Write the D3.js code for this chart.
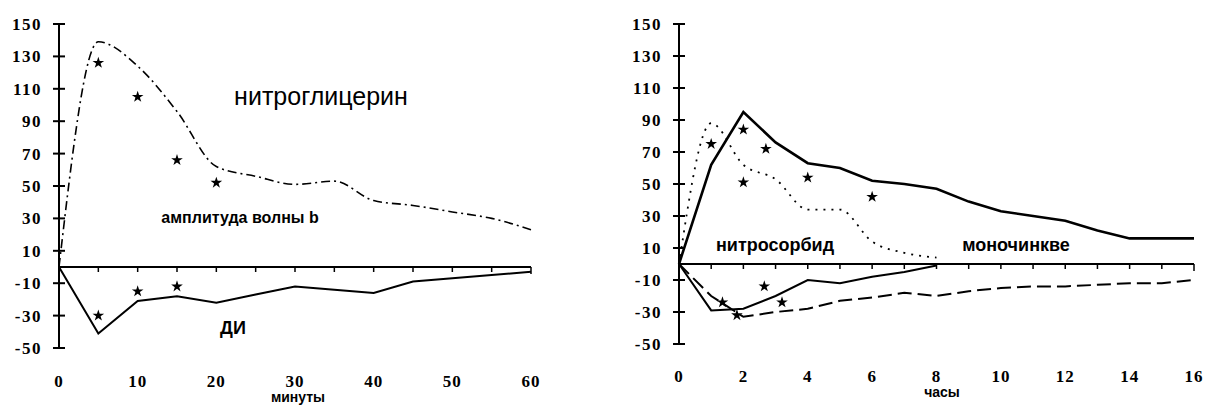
<!DOCTYPE html>
<html>
<head>
<meta charset="utf-8">
<script src="https://cdn.jsdelivr.net/npm/d3@7"></script>
<style>
  body { margin: 0; background: #fff; }
  svg { display: block; }
</style>
</head>
<body>
<div id="chart"></div>
<script>
// --- data ---
var yTicks = [150, 130, 110, 90, 70, 50, 30, 10, -10, -30, -50];

// left panel: minutes
var minutes = [0, 5, 10, 15, 20, 25, 30, 35, 40, 45, 50, 55, 60];
var minuteLabels = [0, 10, 20, 30, 40, 50, 60];
var ntgWaveB = [0, 139, 124, 96, 62, 56, 51, 53, 41, 38, 34, 30, 23];
var ntgDI = [0, -41, -21, -18, -22, -17, -12, -14, -16, -9, -7, -5, -3];
var ntgWaveBStarT = [5, 10, 15, 20];
var ntgWaveBStarV = [126, 105, 66, 52];
var ntgDIStarT = [5, 10, 15];
var ntgDIStarV = [-30, -15, -12];

// right panel: hours
var hours = [0, 1, 2, 3, 4, 5, 6, 7, 8, 9, 10, 11, 12, 13, 14, 15, 16];
var hourLabels = [0, 2, 4, 6, 8, 10, 12, 14, 16];
var monoWaveB = [0, 62, 95, 76, 63, 60, 52, 50, 47, 39, 33, 30, 27, 21, 16, 16, 16];
var monoDI = [0, -20, -33, -30, -28, -23, -21, -18, -20, -17, -15, -14, -14, -13, -12, -12, -10];
var sorbHours = [0, 1, 2, 3, 4, 5, 6, 7, 8];
var sorbWaveB = [0, 88, 62, 53, 34, 34, 14, 7, 4];
var sorbDI = [0, -29, -28, -20, -10, -12, -8, -5, -1];
var rightStarUpT = [1, 2, 2, 2.7, 4, 6];
var rightStarUpV = [75, 84, 51, 72, 54, 42];
var rightStarLowT = [1.35, 1.8, 2.65, 3.2];
var rightStarLowV = [-24, -32, -14, -24];

var W = 1208, H = 406;
var serif = "'Liberation Serif', 'Times New Roman', serif";
var sans = "'Liberation Sans', Arial, sans-serif";

var svg = d3.select("#chart").append("svg").attr("width", W).attr("height", H);

function zip(xs, ys) { return xs.map(function(x, i) { return [x, ys[i]]; }); }

function drawPanel(cfg) {
    var x = d3.scaleLinear().domain(cfg.xDomain).range(cfg.xRange);
    var y = d3.scaleLinear().domain([150, -50]).range(cfg.yRange);
    var g = svg.append("g");

    // y axis with cross ticks
    g.append("line")
        .attr("x1", x(0)).attr("x2", x(0))
        .attr("y1", y(150)).attr("y2", y(-50))
        .attr("stroke", "#000").attr("stroke-width", 2);
    g.selectAll(".ytick").data(yTicks).enter().append("line")
        .attr("x1", x(0) - 6).attr("x2", x(0) + 6)
        .attr("y1", function(d) { return y(d); }).attr("y2", function(d) { return y(d); })
        .attr("stroke", "#000").attr("stroke-width", 2);
    g.selectAll(".ylab").data(yTicks).enter().append("text")
        .attr("x", x(0) - 17)
        .attr("y", function(d) { return y(d); })
        .attr("dy", "0.35em")
        .attr("text-anchor", "end")
        .attr("font-family", serif).attr("font-weight", "bold").attr("font-size", 17)
        .attr("letter-spacing", 1.5)
        .text(function(d) { return d; });

    // zero line with small ticks below
    g.append("line")
        .attr("x1", x(0)).attr("x2", x(cfg.xDomain[1]))
        .attr("y1", y(0)).attr("y2", y(0))
        .attr("stroke", "#000").attr("stroke-width", 2);
    g.selectAll(".xtick").data(cfg.minorTicks).enter().append("line")
        .attr("x1", function(d) { return x(d); }).attr("x2", function(d) { return x(d); })
        .attr("y1", y(0)).attr("y2", function(d, i) { return i === cfg.minorTicks.length - 1 ? y(0) + 7 : y(0) + 5; })
        .attr("stroke", "#000").attr("stroke-width", 1.5);
    g.selectAll(".xlab").data(cfg.labels).enter().append("text")
        .attr("x", function(d) { return x(d); })
        .attr("y", cfg.labelY)
        .attr("dy", "0.35em")
        .attr("text-anchor", "middle")
        .attr("font-family", serif).attr("font-weight", "bold").attr("font-size", 17)
        .attr("letter-spacing", 1)
        .text(function(d) { return d; });
    g.append("text")
        .attr("x", cfg.titleX).attr("y", cfg.titleY)
        .attr("dy", "0.35em")
        .attr("text-anchor", "middle")
        .attr("font-family", sans).attr("font-weight", "bold").attr("font-size", 14)
        .text(cfg.title);

    cfg.lines.forEach(function(l) {
        var line = d3.line()
            .x(function(d) { return x(d[0]); })
            .y(function(d) { return y(d[1]); })
            .curve(l.curve || d3.curveLinear);
        g.append("path")
            .datum(zip(l.t, l.v))
            .attr("d", line)
            .attr("fill", "none")
            .attr("stroke", "#000")
            .attr("stroke-width", l.width)
            .attr("stroke-dasharray", l.dash || null);
    });

    var star = d3.symbol().type(d3.symbolStar).size(42);
    cfg.stars.forEach(function(s) {
        g.selectAll(null).data(zip(s.t, s.v)).enter().append("path")
            .attr("d", star)
            .attr("transform", function(d) { return "translate(" + x(d[0]) + "," + y(d[1]) + ")"; })
            .attr("fill", "#000");
    });

    cfg.notes.forEach(function(n) {
        g.append("text")
            .attr("x", n.x).attr("y", n.y)
            .attr("dy", "0.35em")
            .attr("text-anchor", "middle")
            .attr("font-family", sans)
            .attr("font-size", n.size)
            .attr("font-weight", n.weight || "bold")
            .text(n.text);
    });
}

drawPanel({
    xDomain: [0, 60], xRange: [59, 531], yRange: [24, 348],
    minorTicks: minutes, labels: minuteLabels, labelY: 381,
    title: "минуты", titleX: 298, titleY: 397,
    lines: [
        { t: minutes, v: ntgWaveB, width: 1.6, dash: "9,4,2,4", curve: d3.curveMonotoneX },
        { t: minutes, v: ntgDI, width: 2 }
    ],
    stars: [
        { t: ntgWaveBStarT, v: ntgWaveBStarV },
        { t: ntgDIStarT, v: ntgDIStarV }
    ],
    notes: [
        { text: "нитроглицерин", x: 321, y: 96, size: 25, weight: "normal" },
        { text: "амплитуда волны b", x: 240, y: 217, size: 16 },
        { text: "ДИ", x: 233, y: 328, size: 18 }
    ]
});

drawPanel({
    xDomain: [0, 16], xRange: [679, 1194], yRange: [24, 344],
    minorTicks: hours, labels: hourLabels, labelY: 376,
    title: "часы", titleX: 942, titleY: 392,
    lines: [
        { t: hours, v: monoWaveB, width: 2.6 },
        { t: sorbHours, v: sorbWaveB, width: 1.8, dash: "2,6", curve: d3.curveMonotoneX },
        { t: sorbHours, v: sorbDI, width: 2 },
        { t: hours, v: monoDI, width: 2, dash: "14,6" }
    ],
    stars: [
        { t: rightStarUpT, v: rightStarUpV },
        { t: rightStarLowT, v: rightStarLowV }
    ],
    notes: [
        { text: "нитросорбид", x: 775, y: 245, size: 18 },
        { text: "моночинкве", x: 1016, y: 245, size: 18 }
    ]
});
</script>
</body>
</html>
